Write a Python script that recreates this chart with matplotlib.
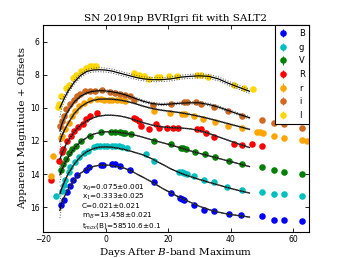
import matplotlib
matplotlib.use("Agg")
import matplotlib.pyplot as plt
import numpy as np

plt.rcParams['mathtext.fontset'] = 'dejavuserif'

# observed photometry (days after B max, apparent mag + offset)
B_days = [-14.3,-13.3,-12.3,-11.3,-10.3,-9.0,-6.4,-5.3,-1.5,-0.9,2.1,2.9,4.5,7.8,15.6,20.9,23.7,24.3,25.0,28.3,31.5,34.7,39.3,43.2,49.9,53.7,56.9,62.9]
B_mag = [15.9,15.55,15.1,14.7,14.35,14.05,13.75,13.6,13.45,13.45,13.4,13.4,13.5,13.75,14.5,15.15,15.45,15.5,15.55,15.85,16.15,16.25,16.4,16.5,16.55,16.75,16.8,16.85]

g_days = [-15.7,-14.0,-13.4,-12.9,-11.8,-11.3,-9.9,-8.6,-7.0,-5.7,-3.8,-2.8,-1.7,-0.6,0.4,2.0,3.1,4.2,5.2,6.9,12.8,15.6,23.5,24.3,25.2,26.1,28.3,31.5,34.7,38.9,43.7,49.9,53.7,56.9,62.7]
g_mag = [15.3,15.0,14.65,14.35,13.85,13.55,13.3,13.0,12.75,12.6,12.35,12.3,12.28,12.28,12.28,12.3,12.3,12.32,12.35,12.4,12.78,13.2,13.85,13.9,13.95,14.0,14.15,14.35,14.5,14.8,14.97,15.1,15.2,15.2,15.35]

V_days = [-14.4,-13.5,-12.7,-11.7,-10.7,-9.6,-7.7,-5.0,-1.6,1.6,3.0,4.5,5.5,6.2,8.0,15.6,20.9,24.0,24.8,25.6,28.6,31.8,35.0,39.6,43.7,49.9,53.7,56.9,62.9]
V_mag = [13.75,13.4,13.1,12.75,12.5,12.3,12.0,11.7,11.45,11.45,11.45,11.48,11.5,11.5,11.6,12.0,12.2,12.4,12.45,12.5,12.65,12.8,12.95,13.2,13.4,13.6,13.75,13.85,14.0]

R_days = [-17.6,-14.9,-13.9,-13.5,-12.3,-11.2,-10.1,-8.9,-7.1,-6.1,-5.0,-2.7,9.0,9.8,10.7,11.2,13.9,16.0,17.1,19.7,21.4,23.0,29.3,30.4,32.0,34.7,41.1,43.7,46.9,50.1]
R_mag = [14.35,13.2,12.7,12.5,12.0,11.7,11.4,11.15,10.95,10.7,10.5,10.3,10.6,10.7,10.8,11.1,11.3,11.0,11.25,11.2,11.2,11.2,11.3,11.3,11.5,11.75,12.2,12.25,12.2,12.3]

r_days = [-17.6,-16.9,-14.4,-13.9,-12.9,-11.8,-10.8,-9.7,-8.6,-7.0,-4.9,-2.8,-1.5,-0.5,1.0,2.0,3.8,5.0,6.3,15.6,20.5,24.5,25.3,28.3,31.0,35.0,39.0,43.5,48.3,49.3,50.3,53.7,56.9,62.7,64.3]
r_mag = [14.1,12.9,11.85,11.7,11.3,10.9,10.5,10.2,9.9,9.7,9.5,9.45,9.45,9.5,9.5,9.5,9.55,9.55,9.6,10.2,10.3,10.35,10.35,10.5,10.65,10.85,11.1,11.25,11.45,11.45,11.5,11.7,11.8,11.95,12.0]

i_days = [-14.5,-14.0,-13.4,-12.6,-11.5,-10.2,-9.2,-8.1,-6.5,-4.9,-3.3,-1.2,1.5,3.0,4.5,6.2,7.9,9.1,15.2,21.0,25.0,26.1,28.8,30.4,34.7,39.0,43.7,49.9,53.7,56.9,62.8]
i_mag = [11.1,10.8,10.5,10.1,9.8,9.5,9.3,9.15,9.0,9.0,9.0,8.95,9.05,9.1,9.15,9.2,9.3,9.5,9.85,9.75,9.65,9.65,9.65,9.75,9.95,10.2,10.5,10.75,10.9,10.95,11.25]

I_days = [-15.3,-15.0,-14.1,-12.5,-11.7,-10.3,-9.3,-8.0,-6.1,-5.0,-4.0,-2.9,9.1,10.6,12.2,13.9,16.3,17.4,20.3,22.9,29.3,30.4,32.7,41.1,44.1,47.1]
I_mag = [9.95,9.8,9.3,8.8,8.6,8.2,8.0,7.8,7.6,7.5,7.45,7.45,7.9,8.0,8.1,8.25,8.15,8.15,8.1,8.05,8.0,8.0,8.15,8.65,8.8,8.85]

# SALT2 model curves
fit_days = [-14.6,-14,-13,-12,-10,-8,-6,-4,-2,0,2,4,6,8,10,12,15,18,21,24,27,30,33,36,39,42,46]
B_fit = [16.2,15.75,15.3,14.95,14.35,13.95,13.7,13.55,13.47,13.46,13.48,13.55,13.65,13.8,14.0,14.2,14.5,14.85,15.15,15.45,15.7,15.95,16.15,16.3,16.42,16.5,16.6]
g_fit = [15.2,14.85,14.4,14.0,13.4,12.95,12.65,12.47,12.38,12.36,12.38,12.44,12.52,12.62,12.73,12.85,13.1,13.4,13.7,13.95,14.15,14.33,14.5,14.66,14.82,14.97,15.15]
V_fit = [14.05,13.75,13.35,13.0,12.45,12.05,11.8,11.6,11.5,11.45,11.45,11.48,11.53,11.6,11.68,11.78,11.95,12.1,12.25,12.42,12.6,12.75,12.9,13.05,13.2,13.35,13.55]
R_fit = [13.1,12.8,12.35,12.0,11.45,11.05,10.8,10.6,10.5,10.45,10.45,10.48,10.55,10.65,10.78,10.9,11.05,11.15,11.2,11.22,11.27,11.38,11.55,11.75,11.95,12.15,12.4]
r_fit = [12.05,11.7,11.3,10.95,10.35,9.95,9.7,9.55,9.48,9.47,9.48,9.52,9.58,9.67,9.78,9.9,10.05,10.15,10.22,10.3,10.4,10.52,10.65,10.8,10.95,11.1,11.3]
i_fit = [11.4,11.0,10.55,10.2,9.65,9.3,9.1,9.0,8.97,8.98,9.03,9.1,9.2,9.33,9.47,9.6,9.75,9.8,9.77,9.72,9.7,9.7,9.8,9.95,10.15,10.35,10.6]
I_fit = [10.0,9.75,9.35,9.0,8.45,8.05,7.8,7.72,7.7,7.72,7.78,7.88,7.98,8.08,8.18,8.25,8.3,8.3,8.25,8.15,8.1,8.07,8.1,8.25,8.5,8.72,9.0]

# model uncertainty: per band width, plus the blow-up at the first epochs
fit_err = {"B": 0.015, "g": 0.015, "V": 0.015, "R": 0.015, "r": 0.03, "i": 0.07, "I": 0.12}
early_err = [0.45,0.12,0.04,0.01,0,0,0,0,0,0,0,0,0,0,0,0,0,0,0,0,0,0,0,0,0,0,0]

# fit parameters shown in the lower left
fit_text = ["x$_0$=0.075\u00b10.001",
            "x$_1$=0.333\u00b10.025",
            "C=0.021\u00b10.021",
            "m$_B$=13.458\u00b10.021",
            "t$_{max}$(B)=58510.6\u00b10.1"]

bands = ["B", "g", "V", "R", "r", "i", "I"]
colors = {"B": "blue", "g": "c", "V": "green", "R": "red", "r": "orange", "i": "chocolate", "I": "gold"}
obs = {"B": (B_days, B_mag), "g": (g_days, g_mag), "V": (V_days, V_mag), "R": (R_days, R_mag),
       "r": (r_days, r_mag), "i": (i_days, i_mag), "I": (I_days, I_mag)}
fits = {"B": B_fit, "g": g_fit, "V": V_fit, "R": R_fit, "r": r_fit, "i": i_fit, "I": I_fit}

fig = plt.figure(figsize=(3.44, 2.58), dpi=100)
ax = fig.add_axes([0.125, 0.101, 0.773, 0.802])

for b in bands:
    d, m = obs[b]
    ax.errorbar(d, m, yerr=0.03, fmt='o', color=colors[b], mec=colors[b], ms=3.7,
                elinewidth=0.7, capsize=0, label=b, zorder=2)

for b in bands:
    f = np.array(fits[b])
    e = fit_err[b] + np.array(early_err)
    ax.plot(fit_days, f, color='k', lw=0.9, zorder=3)
    ax.plot(fit_days, f - e, color='0.3', lw=0.7, ls=':', zorder=3)
    ax.plot(fit_days, f + e, color='0.3', lw=0.7, ls=':', zorder=3)

ax.set_xlim(-20, 65)
ax.set_ylim(17.5, 5)
ax.set_xticks([-20, 0, 20, 40, 60])
ax.set_yticks([6, 8, 10, 12, 14, 16])
ax.tick_params(direction='in', top=True, right=True, labelsize=5.5, length=3, width=0.6, pad=2.5)
for s in ax.spines.values():
    s.set_linewidth(0.8)

ax.set_title("SN 2019np BVRIgri fit with SALT2", family='DejaVu Serif', fontsize=7.5, pad=3)
ax.set_xlabel("Days After $\\it{B}$-band Maximum", family='DejaVu Serif', fontsize=7.5, labelpad=1)
ax.set_ylabel("Apparent Magnitude + Offsets", family='DejaVu Serif', fontsize=7.5, labelpad=2)

for k, line in enumerate(fit_text):
    ax.text(0.147, 0.222 - k * 0.046, line, transform=ax.transAxes, fontsize=5.2,
            va='center_baseline', ha='left')

leg = ax.legend(loc='upper right', borderaxespad=0, fancybox=False, fontsize=6, handlelength=1.0,
                handletextpad=1.4, labelspacing=0.55, borderpad=0.5, framealpha=1, numpoints=1)
leg.get_frame().set_edgecolor('k')
leg.get_frame().set_linewidth(0.8)

fig.savefig("out.png", dpi=100)
